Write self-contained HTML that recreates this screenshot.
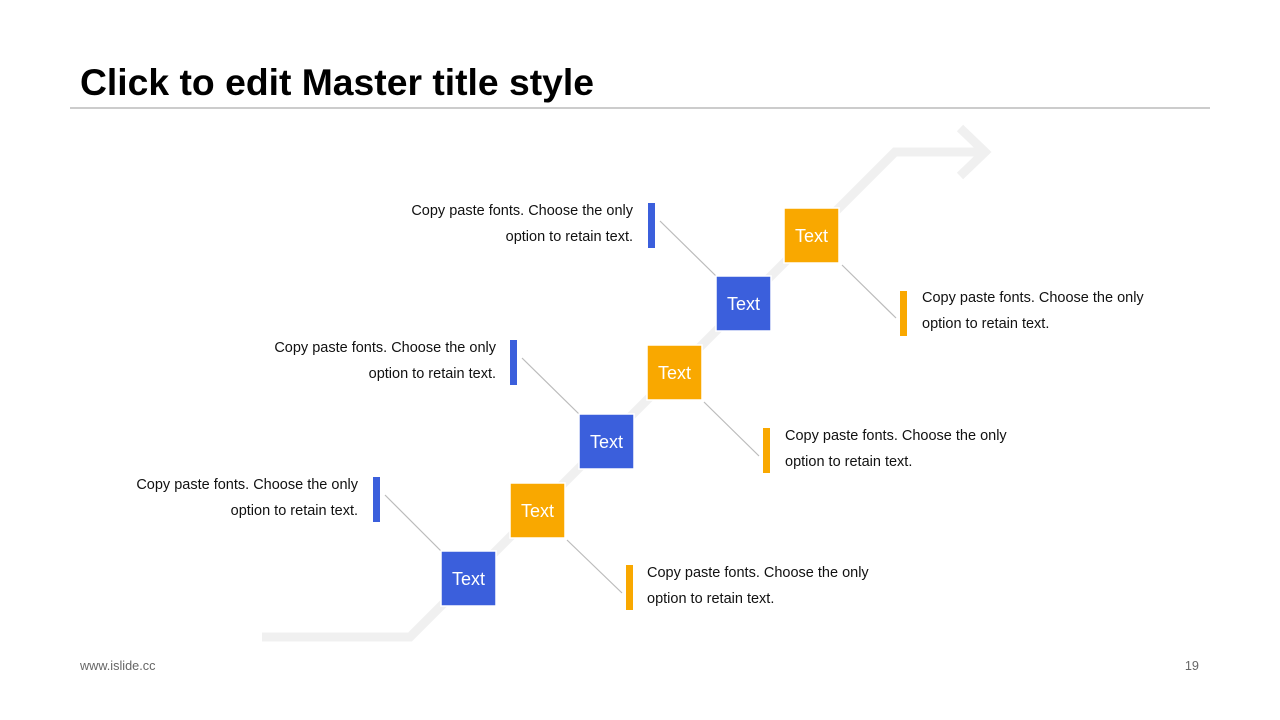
<!DOCTYPE html>
<html><head><meta charset="utf-8"><style>
body{margin:0;width:1280px;height:720px;background:#fff;overflow:hidden;font-family:"Liberation Sans",sans-serif;}
svg{position:absolute;left:0;top:0}
</style></head><body>
<svg width="1280" height="720" viewBox="0 0 1280 720" font-family="Liberation Sans, sans-serif">
<text x="80" y="95" font-size="37.3" font-weight="bold" fill="#000">Click to edit Master title style</text>
<line x1="70" y1="108" x2="1210" y2="108" stroke="#999" stroke-width="1"/>
<g fill="none" stroke="#f0f0f0" stroke-width="9">
<polyline points="262,637 410,637 895,152 985,152"/>
<polyline points="960,128 985,152 960,176"/>
</g>
<g stroke="#bbb" stroke-width="1.2">
<line x1="385" y1="495" x2="441" y2="551"/>
<line x1="522" y1="358" x2="579" y2="414"/>
<line x1="660" y1="221" x2="716" y2="276"/>
<line x1="567" y1="540" x2="622" y2="593"/>
<line x1="704" y1="402" x2="759" y2="456"/>
<line x1="842" y1="265" x2="896" y2="318"/>
</g>
<g stroke="#fff" stroke-width="1.5">
<rect x="441" y="551" width="55" height="55" fill="#3b5fdc"/>
<rect x="579" y="414" width="55" height="55" fill="#3b5fdc"/>
<rect x="716" y="276" width="55" height="55" fill="#3b5fdc"/>
<rect x="510" y="483" width="55" height="55" fill="#f9a800"/>
<rect x="647" y="345" width="55" height="55" fill="#f9a800"/>
<rect x="784" y="208" width="55" height="55" fill="#f9a800"/>
</g>
<g fill="#fff" font-size="18" text-anchor="middle">
<text x="468.5" y="585">Text</text><text x="606.5" y="448">Text</text><text x="743.5" y="310">Text</text>
<text x="537.5" y="517">Text</text><text x="674.5" y="379">Text</text><text x="811.5" y="242">Text</text>
</g>
<g fill="#3b5fdc"><rect x="373" y="477" width="7" height="45"/><rect x="510" y="340" width="7" height="45"/><rect x="648" y="203" width="7" height="45"/></g>
<g fill="#f9a800"><rect x="626" y="565" width="7" height="45"/><rect x="763" y="428" width="7" height="45"/><rect x="900" y="291" width="7" height="45"/></g>
<g font-size="14.5" fill="#111" text-anchor="end">
<text x="358" y="489">Copy paste fonts. Choose the only</text><text x="358" y="515">option to retain text.</text>
<text x="496" y="352">Copy paste fonts. Choose the only</text><text x="496" y="378">option to retain text.</text>
<text x="633" y="215">Copy paste fonts. Choose the only</text><text x="633" y="241">option to retain text.</text>
</g>
<g font-size="14.5" fill="#111">
<text x="647" y="577">Copy paste fonts. Choose the only</text><text x="647" y="603">option to retain text.</text>
<text x="785" y="440">Copy paste fonts. Choose the only</text><text x="785" y="466">option to retain text.</text>
<text x="922" y="302">Copy paste fonts. Choose the only</text><text x="922" y="328">option to retain text.</text>
</g>
<text x="80" y="670" font-size="12.7" fill="#666">www.islide.cc</text>
<text x="1199" y="670" font-size="12.7" fill="#666" text-anchor="end">19</text>
</svg>
</body></html>
